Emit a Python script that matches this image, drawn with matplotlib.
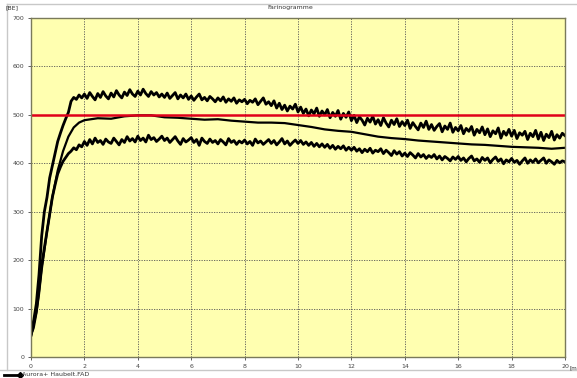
import matplotlib
matplotlib.use("Agg")
import matplotlib.pyplot as plt
from matplotlib.lines import Line2D
import numpy as np

# upper / lower envelope, sampled every 0.1 min (0..20)
upper = [
    45, 75, 110, 170, 250, 300, 330, 370, 395, 420,
    445, 462, 478, 492, 505, 528, 536, 532, 541, 535,
    543, 534, 546, 538, 531, 544, 536, 548, 539, 533,
    545, 537, 550, 541, 535, 547, 540, 552, 543, 538,
    549, 541, 553, 544, 538, 548, 541, 546, 537, 543,
    536, 545, 534, 540, 546, 533, 541, 535, 543, 532,
    539, 530, 537, 543, 531, 536, 529, 538, 533, 527,
    535, 529, 537, 526, 533, 528, 535, 524, 531, 527,
    532, 523, 530, 526, 533, 521, 528, 535, 522, 527,
    519, 529, 514, 524, 511, 520, 508, 518, 512, 522,
    506, 516, 503, 512, 498, 510, 502, 514, 497, 508,
    500, 511, 494, 505, 497, 509, 491, 503, 495, 506,
    488, 499, 484, 496, 489, 479, 493, 485, 497, 481,
    490, 478, 494, 483, 475, 489, 480, 492, 476, 486,
    478, 489, 472, 484, 476, 469, 483, 474, 487, 470,
    480, 468, 476, 482, 465, 477, 470, 483, 464, 474,
    467, 478, 461, 472, 466, 476, 458, 470, 463, 475,
    459, 471, 455, 467, 461, 473, 452, 466, 458, 470,
    456, 468, 451, 463, 458, 466, 449, 462, 455, 468,
    450, 464, 447, 460, 453, 466, 448, 459, 452, 462,
    457,
]
lower = [
    45, 70, 95, 140, 190, 225, 260, 295, 330, 355,
    378, 392, 404, 412, 420, 425, 432, 428, 438, 434,
    445, 437, 449, 440, 452, 443, 447, 439, 450, 444,
    441, 452, 445, 438, 449, 443, 455, 446, 451, 444,
    456, 447, 452, 444, 458, 449, 453, 445, 450, 456,
    447, 452, 443, 449, 455, 446, 439, 451, 444, 448,
    453, 443, 449, 437, 452, 445, 441, 450, 443, 447,
    440, 449, 444, 438, 451, 443, 447, 439, 446, 442,
    448, 440, 445, 437, 450, 442, 446, 439, 444, 449,
    441, 447, 438, 444, 451, 440, 446, 437, 443, 448,
    441, 447, 439, 444, 437, 443, 435, 441, 434, 440,
    433, 439, 431, 437, 429, 435, 430, 436, 427, 433,
    427, 433, 425, 430, 422, 429, 424, 431, 421, 427,
    424, 430, 420, 427, 422, 416, 426, 419, 424, 415,
    421, 414, 422, 417, 411, 420, 413, 418, 410, 416,
    412, 418, 409, 415, 407, 414, 410, 405, 413, 408,
    414, 406, 411, 403, 410, 415, 405, 409, 402, 412,
    406, 411, 401, 408, 413, 404, 409, 399, 407, 403,
    410, 402, 406, 398, 405, 411, 400, 407, 402, 409,
    401, 406, 411, 400, 407, 403, 398, 406, 401, 405,
    403,
]
t_band = np.arange(len(upper)) / 10.0

# mean curve
t_mid = [0, 0.1, 0.2, 0.3, 0.4, 0.5, 0.6, 0.8, 1.0, 1.2, 1.4, 1.6, 1.8, 2.0,
         2.5, 3.0, 3.5, 4.0, 4.5, 5.0, 5.5, 6.0, 6.5, 7.0, 7.5, 8.0, 8.5,
         9.0, 9.5, 10.0, 10.5, 11.0, 11.5, 12.0, 12.5, 13.0, 13.5, 14.0,
         14.5, 15.0, 15.5, 16.0, 16.5, 17.0, 17.5, 18.0, 18.5, 19.0, 19.5, 20.0]
mid = [45, 60, 90, 130, 180, 220, 260, 330, 385, 425, 455, 474, 484, 489,
       493, 492, 497, 499, 499, 495, 494, 492, 490, 491, 488, 486, 484,
       484, 483, 479, 475, 470, 467, 465, 460, 455, 452, 450, 447, 445,
       443, 441, 439, 438, 436, 434, 433, 432, 430, 432]

target = 500
xticks = list(range(0, 21, 2))
yticks = list(range(0, 701, 100))

fig = plt.figure(figsize=(5.77, 3.78), dpi=100)
ax = fig.add_axes([31/577, 21/378, 534/577, 339/378])
ax.set_facecolor("#ffffb0")

ax.plot(t_band, upper, color="black", lw=2.0)
ax.plot(t_band, lower, color="black", lw=2.0)
ax.plot(t_mid, mid, color="black", lw=1.6)
ax.axhline(target, color="#e0001a", lw=1.8)

ax.set_xlim(0, 20)
ax.set_ylim(0, 700)
ax.set_xticks(xticks)
ax.set_yticks(yticks)
ax.tick_params(labelsize=4.5, length=2, width=0.6, colors="#444444", pad=3)
ax.grid(True, linestyle=(0, (1.5, 1.5)), color="#555555", lw=0.6)
for s in ax.spines.values():
    s.set_color("#7a7a5a")
    s.set_linewidth(1.0)

fig.text(5/577, 1 - 8/378, "[BE]", fontsize=4.5, va="center", color="#333333")
fig.text(290/577, 1 - 8/378, "Farinogramme", fontsize=4.5, ha="center", va="center", color="#333333")
fig.text(570/577, 1 - 368/378, "[m", fontsize=4, va="center", color="#333333")

# frame lines
fig.add_artist(Line2D([7/577, 1], [1 - 4/378, 1 - 4/378], color="#c8c8c8", lw=1))
fig.add_artist(Line2D([7/577, 7/577], [1 - 4/378, 1 - 370/378], color="#c8c8c8", lw=1))
fig.add_artist(Line2D([0, 1], [1 - 370/378, 1 - 370/378], color="#c8c8c8", lw=1))

# legend
fig.add_artist(Line2D([4/577, 20/577], [1 - 374.5/378] * 2, color="black", lw=2,
                      marker="D", markersize=3, markevery=[1]))
fig.text(22/577, 1 - 374.5/378, "Aurora+ Haubelt.FAD", fontsize=4.5, va="center", color="#333333")

fig.savefig("out.png", dpi=100)
